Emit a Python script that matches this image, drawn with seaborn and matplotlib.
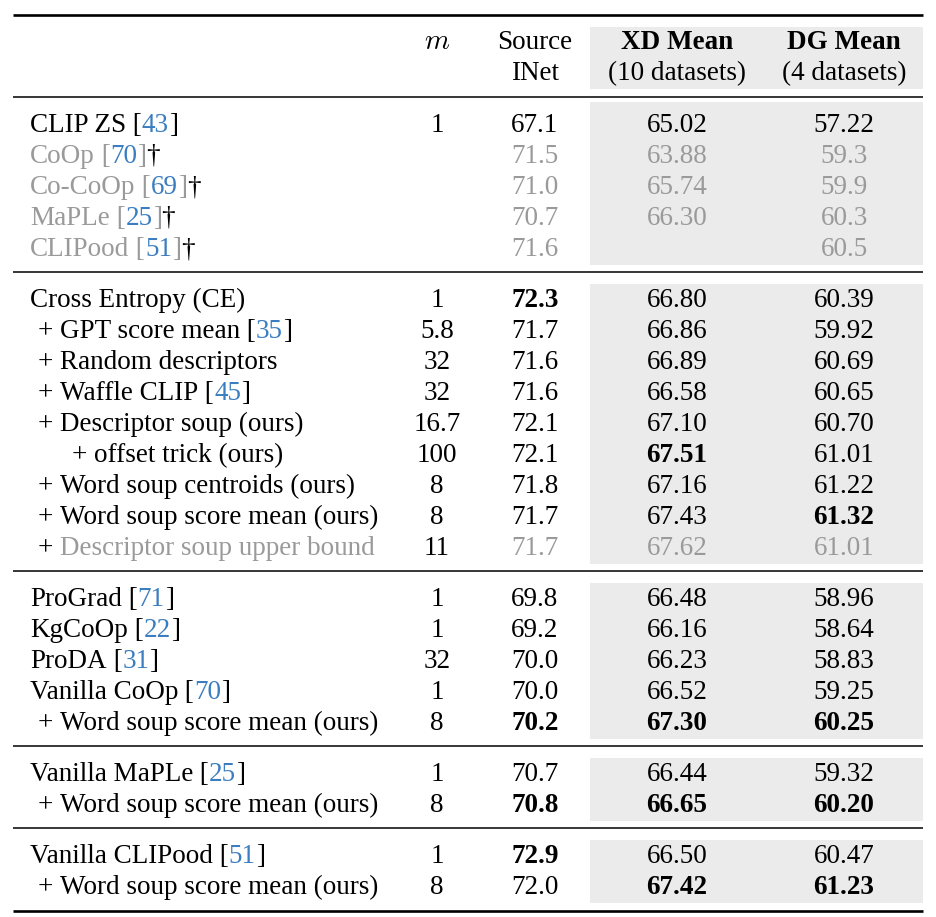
import matplotlib
matplotlib.use("Agg")
import matplotlib.pyplot as plt
import seaborn as sns

# Table contents, one entry per row
methods = ["CLIP ZS", "CoOp", "Co-CoOp", "MaPLe", "CLIPood",
           "Cross Entropy (CE)", "GPT score mean", "Random descriptors", "Waffle CLIP",
           "Descriptor soup (ours)", "offset trick (ours)", "Word soup centroids (ours)",
           "Word soup score mean (ours)", "Descriptor soup upper bound",
           "ProGrad", "KgCoOp", "ProDA", "Vanilla CoOp", "Word soup score mean (ours)",
           "Vanilla MaPLe", "Word soup score mean (ours)",
           "Vanilla CLIPood", "Word soup score mean (ours)"]
indent = [0, 0, 0, 0, 0,
          0, 1, 1, 1, 1, 2, 1, 1, 1,
          0, 0, 0, 0, 1,
          0, 1,
          0, 1]
cites = ["43", "70", "69", "25", "51",
         "", "35", "", "45", "", "", "", "", "",
         "71", "22", "31", "70", "",
         "25", "",
         "51", ""]
dagger = [False, True, True, True, True] + [False] * 18
m_vals = ["1", "", "", "", "",
          "1", "5.8", "32", "32", "16.7", "100", "8", "8", "11",
          "1", "1", "32", "1", "8",
          "1", "8",
          "1", "8"]
source_inet = ["67.1", "71.5", "71.0", "70.7", "71.6",
               "72.3", "71.7", "71.6", "71.6", "72.1", "72.1", "71.8", "71.7", "71.7",
               "69.8", "69.2", "70.0", "70.0", "70.2",
               "70.7", "70.8",
               "72.9", "72.0"]
xd_mean = ["65.02", "63.88", "65.74", "66.30", "",
           "66.80", "66.86", "66.89", "66.58", "67.10", "67.51", "67.16", "67.43", "67.62",
           "66.48", "66.16", "66.23", "66.52", "67.30",
           "66.44", "66.65",
           "66.50", "67.42"]
dg_mean = ["57.22", "59.3", "59.9", "60.3", "60.5",
           "60.39", "59.92", "60.69", "60.65", "60.70", "61.01", "61.22", "61.32", "61.01",
           "58.96", "58.64", "58.83", "59.25", "60.25",
           "59.32", "60.20",
           "60.47", "61.23"]
gray_rows = [1, 2, 3, 4, 13]
bold_source = [5, 18, 20, 21]
bold_xd = [10, 18, 20, 22]
bold_dg = [12, 18, 20, 22]
group_sizes = [5, 9, 5, 2, 2]

GRAY_TXT = "#9a9a9a"
BLUE = "#3a7dc0"
SHADE = "#ebebeb"
FS = 19.5

sns.set_theme(style="white")
plt.rcParams["font.family"] = ["Liberation Serif", "DejaVu Serif"]
plt.rcParams["mathtext.fontset"] = "cm"
plt.rcParams["text.color"] = "black"

fig = plt.figure(figsize=(9.36, 9.17), dpi=100)
ax = fig.add_axes([0, 0, 1, 1])
ax.set_xlim(0, 936)
ax.set_ylim(917, 0)
ax.axis("off")
renderer = fig.canvas.get_renderer()

X0, X1 = 13, 923
SH0 = 590
col_m, col_src, col_xd, col_dg = 437, 535, 677, 844


def runs(x, y, pieces):
    # draw coloured pieces of one cell side by side on a shared baseline
    for text, color in pieces:
        t = ax.text(x, y, text, color=color, fontsize=FS, ha="left", va="baseline")
        x += t.get_window_extent(renderer).width


# header
ax.hlines(15, X0, X1, color="black", lw=1.9)
ax.add_patch(plt.Rectangle((SH0, 27), X1 - SH0, 62, color=SHADE, lw=0))
ax.text(col_m, 49, "$m$", fontsize=FS + 1, ha="center", va="baseline")
ax.text(col_src, 49, "Source", fontsize=FS, ha="center", va="baseline")
ax.text(col_src, 80, "INet", fontsize=FS, ha="center", va="baseline")
ax.text(col_xd, 49, "XD Mean", fontsize=FS, ha="center", va="baseline", fontweight="bold")
ax.text(col_xd, 80, "(10 datasets)", fontsize=FS, ha="center", va="baseline")
ax.text(col_dg, 49, "DG Mean", fontsize=FS, ha="center", va="baseline", fontweight="bold")
ax.text(col_dg, 80, "(4 datasets)", fontsize=FS, ha="center", va="baseline")
ax.hlines(97, X0, X1, color="black", lw=1.1)

row = 0
yc = 123
for g, n in enumerate(group_sizes):
    top = yc - (21 if g == 0 else 14)
    bottom = yc + 31 * (n - 1) + 18
    ax.add_patch(plt.Rectangle((SH0, top), X1 - SH0, bottom - top, color=SHADE, lw=0))
    for k in range(n):
        y = yc + 9
        gray = row in gray_rows
        col = GRAY_TXT if gray else "black"
        pieces = []
        x = 30 + (8 if indent[row] == 1 else 42 if indent[row] == 2 else 0)
        if indent[row]:
            pieces.append(("+ ", "black"))
        pieces.append((methods[row], col))
        if cites[row]:
            pieces += [(" [", col), (cites[row], BLUE), ("]", col)]
        if dagger[row]:
            pieces.append(("\u2020", "black"))
        runs(x, y, pieces)
        m_col = "black" if row == 13 else col
        ax.text(col_m, y, m_vals[row], color=m_col, fontsize=FS, ha="center", va="baseline")
        for cx, vals, bolds in [(col_src, source_inet, bold_source),
                                (col_xd, xd_mean, bold_xd),
                                (col_dg, dg_mean, bold_dg)]:
            ax.text(cx, y, vals[row], color=col, fontsize=FS, ha="center", va="baseline",
                    fontweight="bold" if row in bolds else "normal")
        row += 1
        yc += 31
    last = yc - 31
    if g < len(group_sizes) - 1:
        ax.hlines(last + 25, X0, X1, color="black", lw=1.1)
        yc = last + 51
    else:
        ax.hlines(911, X0, X1, color="black", lw=1.9)

fig.savefig("out.png", dpi=100)
